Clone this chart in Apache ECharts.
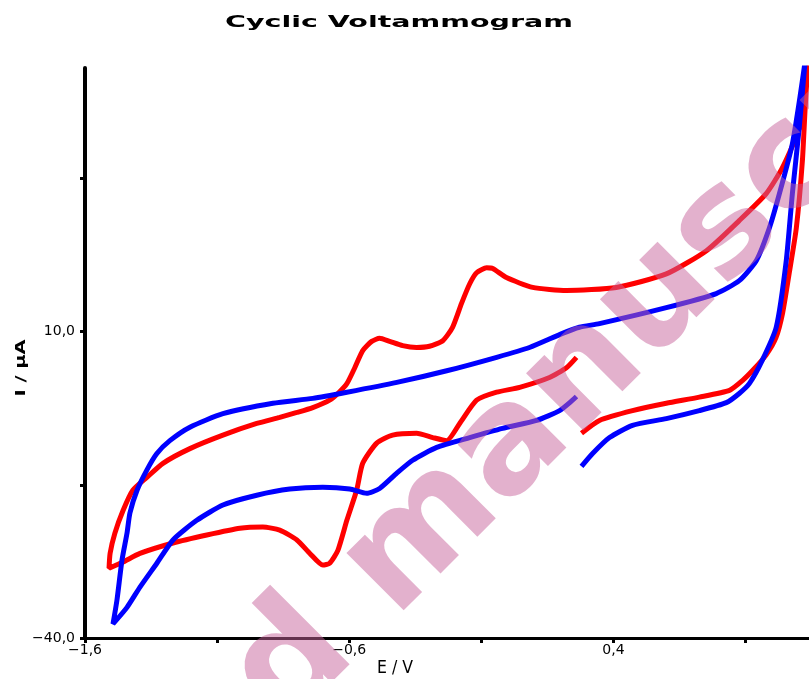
<!DOCTYPE html>
<html><head><meta charset="utf-8">
<script src="https://cdn.jsdelivr.net/npm/echarts@6/dist/echarts.min.js"></script>
<style>html,body{margin:0;padding:0;background:#fff}#c{width:809px;height:679px}</style>
</head><body><div id="c"></div>
<script>
// ---- data (E in V, I in µA) ----
const redE = [0.279,0.347,0.472,0.600,0.725,0.839,0.888,0.930,0.978,1.015,1.040,1.065,1.092,1.115,1.130,1.150,1.103,1.039,0.978,0.876,0.752,0.600,0.411,0.222,0.094,-0.005,-0.057,-0.080,-0.118,-0.144,-0.175,-0.209,-0.246,-0.296,-0.345,-0.398,-0.447,-0.485,-0.515,-0.549,-0.579,-0.609,-0.643,-0.674,-0.738,-0.798,-0.863,-0.950,-1.078,-1.203,-1.305,-1.366,-1.419,-1.456,-1.487,-1.505,-1.509,-1.456,-1.392,-1.267,-1.139,-1.014,-0.927,-0.863,-0.798,-0.749,-0.700,-0.674,-0.643,-0.609,-0.572,-0.549,-0.496,-0.436,-0.345,-0.284,-0.231,-0.182,-0.118,-0.042,0.045,0.158,0.222,0.260];
const redI = [-6.6,-4.5,-2.9,-1.7,-0.7,0.4,2.0,3.8,6.2,9.0,13.0,19.5,26.9,37.9,49.7,56,43.2,36.7,32.5,28.1,23.2,19.4,17.2,16.7,17.2,18.8,20.3,20.4,19.6,17.8,14.6,10.7,8.5,7.6,7.4,7.7,8.4,8.9,8.4,6.9,4.1,1.5,-0.1,-1.2,-2.4,-3.2,-4.0,-5.0,-6.9,-9.1,-11.5,-13.8,-15.9,-19.2,-22.9,-26.2,-28.6,-27.6,-26.2,-24.5,-23.2,-22.1,-21.9,-22.4,-24.0,-26.2,-28.1,-27.8,-25.7,-20.8,-15.9,-11.5,-8.2,-6.9,-6.6,-7.3,-7.8,-5.0,-1.2,0.1,0.9,2.5,4.1,5.8];
const blueE = [0.279,0.321,0.385,0.472,0.600,0.725,0.827,0.876,0.914,0.963,1.016,1.054,1.077,1.103,1.122,1.135,1.105,1.077,1.028,0.990,0.941,0.876,0.789,0.600,0.347,0.271,0.207,0.082,-0.042,-0.231,-0.420,-0.609,-0.738,-0.889,-1.078,-1.203,-1.279,-1.328,-1.366,-1.403,-1.430,-1.441,-1.460,-1.479,-1.494,-1.441,-1.392,-1.328,-1.267,-1.177,-1.078,-0.950,-0.825,-0.700,-0.598,-0.534,-0.485,-0.420,-0.360,-0.269,-0.144,-0.020,0.109,0.196,0.245,0.260];
const blueI = [-12.0,-9.9,-7.3,-5.3,-4.2,-2.9,-1.6,-0.1,1.5,5.3,10.7,21.6,32.5,43.2,52.5,57,48,40.6,32.5,26.9,21.6,18.3,16.2,13.9,11.3,10.7,9.7,7.4,5.8,3.6,1.7,0.1,-0.9,-1.7,-3.4,-5.6,-7.8,-9.9,-12.6,-15.9,-19.6,-22.9,-27.3,-33.8,-37.7,-35.0,-31.7,-27.8,-24.0,-20.8,-18.3,-16.7,-15.7,-15.4,-15.7,-16.4,-15.6,-13.1,-11.0,-8.9,-7.3,-5.8,-4.5,-2.9,-1.2,-0.6];
const xTicks = [-1.6,-1.1,-0.6,-0.1,0.4,0.9];
const xLabels = [-1.6,-0.6,0.4];
const yTicks = [-40,-15,10,35];
const yLabels = [-40,10];
const titleText = 'Cyclic Voltammogram';
const xName = 'E / V';
const yName = 'I / µA';
const watermark = 'Accepted manuscript';

const ctx = document.createElement('canvas').getContext('2d');
function measure(text, font){ ctx.font = font; return ctx.measureText(text).width; }
const fmt = v => (v < 0 ? '\u2212' : '') + Math.abs(v).toFixed(1).replace('.', ',');

const titleFont = 'bold 15px "DejaVu Sans"';
const xNameFont = '18px "DejaVu Sans"';
const yNameFont = 'bold 14px "DejaVu Sans"';
const wmSize = 148;
const wmFont = 'bold ' + wmSize + 'px "DejaVu Sans"';
const wmOffset = measure('Accepted ', wmFont);

const chart = echarts.init(document.getElementById('c'), null, {renderer: 'canvas'});
chart.setOption({
  animation: false,
  backgroundColor: '#fff',
  grid: {left: 85, right: 0, top: 68, bottom: 41},
  xAxis: {
    type: 'value', min: -1.6, max: 1.14,
    axisLine: {onZero: false, lineStyle: {color: '#000', width: 3}},
    axisTick: {show: true, customValues: xTicks, length: 5, lineStyle: {color: '#000', width: 3}},
    axisLabel: {customValues: xLabels, formatter: fmt, color: '#000', fontSize: 14, fontFamily: 'DejaVu Sans', margin: 5},
    splitLine: {show: false}
  },
  yAxis: {
    type: 'value', min: -40, max: 53,
    axisLine: {onZero: false, lineStyle: {color: '#000', width: 4}},
    axisTick: {show: true, customValues: yTicks, length: 5, lineStyle: {color: '#000', width: 3}},
    axisLabel: {customValues: yLabels, formatter: fmt, color: '#000', fontSize: 14, fontFamily: 'DejaVu Sans', margin: 10},
    splitLine: {show: false}
  },
  series: [
    {type: 'line', name: 'red', data: redE.map((e, i) => [e, redI[i]]), showSymbol: false, smooth: 0.2,
     lineStyle: {color: '#ff0000', width: 5}, itemStyle: {color: '#ff0000'}, clip: true, z: 3},
    {type: 'line', name: 'blue', data: blueE.map((e, i) => [e, blueI[i]]), showSymbol: false, smooth: 0.2,
     lineStyle: {color: '#0000ff', width: 5}, itemStyle: {color: '#0000ff'}, clip: true, z: 4}
  ],
  graphic: [
    {type: 'text', x: 399, y: 23, z: 50, scaleX: 348 / measure(titleText, titleFont),
     style: {text: titleText, font: titleFont, fill: '#000', textAlign: 'center', textVerticalAlign: 'middle'}},
    {type: 'text', x: 395, y: 668, z: 50, scaleX: 36 / measure(xName, xNameFont),
     style: {text: xName, font: xNameFont, fill: '#000', textAlign: 'center', textVerticalAlign: 'middle'}},
    {type: 'text', x: 21, y: 368, z: 50, rotation: Math.PI / 2, scaleX: 57 / measure(yName, yNameFont),
     style: {text: yName, font: yNameFont, fill: '#000', textAlign: 'center', textVerticalAlign: 'middle'}},
    {type: 'group', x: 404, y: 628, rotation: Math.PI / 4, z: 100, children: [
      {type: 'text', x: -wmOffset, y: -0.3465 * wmSize, z: 100,
       style: {text: watermark, font: wmFont, fill: 'rgba(200,100,155,0.5)', textAlign: 'left', textVerticalAlign: 'middle'}}
    ]}
  ]
});
</script></body></html>
